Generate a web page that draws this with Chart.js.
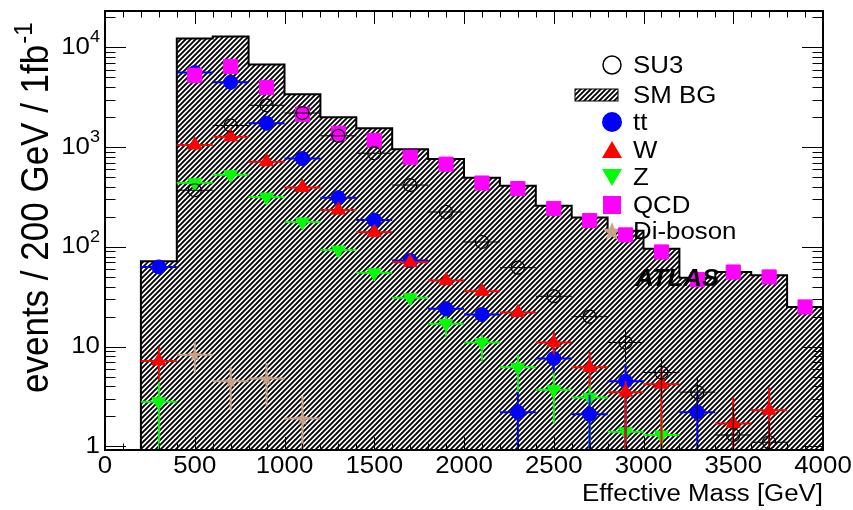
<!DOCTYPE html>
<html>
<head>
<meta charset="utf-8">
<script src="https://cdn.jsdelivr.net/npm/chart.js@4.4.0/dist/chart.umd.min.js"></script>
<style>
  html, body { margin: 0; padding: 0; background: #fff; }
</style>
</head>
<body>
<canvas id="grafico" width="853" height="510"></canvas>
<script>
// effective mass bins (centres, GeV) and events / 200 GeV / 1fb-1
var binCenters = [300, 500, 700, 900, 1100, 1300, 1500, 1700, 1900, 2100, 2300, 2500, 2700, 2900, 3100, 3300, 3500, 3700, 3900];
var binWidth = 200;

var smBg    = [72, 12300, 12900, 6760, 3390, 2000, 1550, 955, 760, 495, 410, 258, 197, 145, 96, 49, 56, 52, 25];
var su3     = [null, 370, 1650, 2630, 2200, 1300, 870, 417, 224, 112, 62, 32, 20, 11, 5.5, 3.5, 1.3, 1.1, null];
var ttbar   = [63, 5600, 4470, 1740, 770, 312, 186, 73, 24, 21, 2.2, 7.6, 2.1, 4.5, null, 2.2, null, null, null];
var wJets   = [7.2, 1050, 1270, 715, 395, 234, 140, 70, 46, 36, 22, 11, 6.2, 3.5, 4.2, null, 1.7, 2.3, null];
var zJets   = [2.8, 440, 530, 316, 178, 93, 55, 31, 17, 11, 6.2, 3.7, 3.1, 1.4, 1.3, null, null, null, null];
var qcd     = [null, 5250, 6460, 3980, 2140, 1380, 1170, 794, 676, 437, 385, 243, 184, 132, 89, 47, 56, 50, 25];
var diboson = [null, 8.3, 4.5, 4.8, 1.9, null, null, null, null, null, null, null, null, null, null, null, null, null, null];

// vertical error bars [low, high], only where they stick out of the marker
var su3Err     = [null, null, null, null, null, null, null, null, null, null, null, null, null, [7, 15], [3, 7.8], [1.8, 5], [0.5, 2.6], [0.5, 1.8], null];
var ttbarErr   = [null, null, null, null, null, null, null, null, null, null, [0.5, 3.5], [5.5, 9.7], [0.5, 3.3], [0.5, 6.6], null, [0.5, 3.5], null, null, null];
var wJetsErr   = [[4.6, 10], null, null, null, null, null, null, null, null, null, null, [8.3, 14], [4, 8.9], [0.5, 4.5], [0.5, 6.2], null, [0.5, 3.1], [0.5, 3.9], null];
var zJetsErr   = [[0.5, 4.4], null, null, null, null, null, null, null, [12.6, 21], [7.1, 13.2], [3.5, 8.3], [1.7, 5.5], [0.5, 4.7], [0.5, 3.0], [0.5, 2.1], null, null, null, null];
var dibosonErr = [null, [5.5, 11.2], [2.3, 6.3], [2.5, 6.8], [0.5, 3.2], null, null, null, null, null, null, null, null, null, null, null, null, null, null];

// axes
var xMin = 0, xMax = 4000;
var yMin = 0.92, yMax = 23200;
var xTickLabels = [0, 500, 1000, 1500, 2000, 2500, 3000, 3500, 4000];
var yTickValues = [1, 10, 100, 1000, 10000];
var yTickBase   = ['1', '10', '10', '10', '10'];
var yTickExp    = ['', '', '2', '3', '4'];

var legendNames = ['SU3', 'SM BG', 'tt', 'W', 'Z', 'QCD', 'Di-boson'];

var FONT = '"Liberation Sans", Arial, sans-serif';
var SX = 1.1; // text is a little wide in this style
var tan = '#c8a287';

var canvas = document.getElementById('grafico');
var ctxMain = canvas.getContext('2d');

// hatch for the SM background
var tile = document.createElement('canvas');
tile.width = 5; tile.height = 5;
var tc = tile.getContext('2d');
tc.fillStyle = '#fff';
tc.fillRect(0, 0, 5, 5);
tc.strokeStyle = '#000';
tc.lineWidth = 1.9;
tc.beginPath();
tc.moveTo(-1, 6); tc.lineTo(6, -1);
tc.moveTo(-1, 1); tc.lineTo(1, -1);
tc.moveTo(4, 6); tc.lineTo(6, 4);
tc.stroke();
var hatch = ctxMain.createPattern(tile, 'repeat');

var starPath = function(ctx, cx, cy, R) {
	var r = R * 0.42;
	ctx.beginPath();
	for (var k = 0; k < 10; k++) {
		var a = -Math.PI / 2 + k * Math.PI / 5;
		var rr = (k % 2 === 0) ? R : r;
		ctx.lineTo(cx + rr * Math.cos(a), cy + rr * Math.sin(a));
	}
	ctx.closePath();
};

var starImg = document.createElement('canvas');
starImg.width = 14; starImg.height = 14;
var sc = starImg.getContext('2d');
sc.fillStyle = tan;
starPath(sc, 7, 7.5, 7);
sc.fill();

var toPoints = function(values) {
	return values.map(function(v, i) { return { x: binCenters[i], y: v }; });
};

// step outline: left edge of each bin, closed at the last upper edge
var histPoints = [{ x: binCenters[0] - binWidth / 2, y: yMin }];
for (var i = 0; i < smBg.length; i++) {
	histPoints.push({ x: binCenters[i] - binWidth / 2, y: smBg[i] });
}
histPoints.push({ x: binCenters[binCenters.length - 1] + binWidth / 2, y: smBg[smBg.length - 1] });

var pointSet = function(label, values, errors, color, style, radius, order, extra) {
	var ds = {
		type: 'scatter',
		label: label,
		data: toPoints(values),
		errors: errors,
		errColor: color,
		order: order,
		pointStyle: style,
		pointRadius: radius,
		pointBackgroundColor: color,
		pointBorderColor: color,
		pointBorderWidth: 1
	};
	for (var k in extra) { ds[k] = extra[k]; }
	return ds;
};

var text = function(ctx, str, x, y, size, align, weight) {
	ctx.save();
	ctx.font = (weight || '') + ' ' + size + 'px ' + FONT;
	var w = ctx.measureText(str).width * SX;
	var x0 = align === 'right' ? x - w : (align === 'center' ? x - w / 2 : x);
	ctx.translate(x0, y);
	ctx.scale(SX, 1);
	ctx.textAlign = 'left';
	ctx.textBaseline = 'middle';
	ctx.fillStyle = '#000';
	ctx.fillText(str, 0, 0);
	ctx.restore();
};

var supLabel = function(ctx, base, sup, xRight, y, size) {
	var supSize = size * 0.7;
	ctx.save();
	ctx.font = size + 'px ' + FONT;
	var wb = ctx.measureText(base).width;
	ctx.font = supSize + 'px ' + FONT;
	var ws = sup ? ctx.measureText(sup).width : 0;
	ctx.translate(xRight - (wb + ws) * SX, y);
	ctx.scale(SX, 1);
	ctx.textAlign = 'left';
	ctx.textBaseline = 'middle';
	ctx.fillStyle = '#000';
	ctx.font = size + 'px ' + FONT;
	ctx.fillText(base, 0, 0);
	if (sup) {
		ctx.font = supSize + 'px ' + FONT;
		ctx.fillText(sup, wb, -size * 0.42);
	}
	ctx.restore();
};

var legendMarker = function(ctx, n, x, y) {
	ctx.save();
	if (n === 0) {
		ctx.strokeStyle = '#000'; ctx.lineWidth = 1.5;
		ctx.beginPath(); ctx.arc(x, y, 9, 0, 2 * Math.PI); ctx.stroke();
	} else if (n === 1) {
		ctx.fillStyle = hatch; ctx.fillRect(x - 37, y - 6, 43, 12);
		ctx.strokeStyle = '#000'; ctx.lineWidth = 1;
		ctx.strokeRect(x - 37, y - 6, 43, 12);
	} else if (n === 2) {
		ctx.fillStyle = '#0000ff';
		ctx.beginPath(); ctx.arc(x, y, 10, 0, 2 * Math.PI); ctx.fill();
	} else if (n === 3) {
		ctx.fillStyle = '#ff0000';
		ctx.beginPath(); ctx.moveTo(x, y - 9); ctx.lineTo(x + 10, y + 8); ctx.lineTo(x - 10, y + 8); ctx.closePath(); ctx.fill();
	} else if (n === 4) {
		ctx.fillStyle = '#00ff00';
		ctx.beginPath(); ctx.moveTo(x, y + 9); ctx.lineTo(x + 10, y - 8); ctx.lineTo(x - 10, y - 8); ctx.closePath(); ctx.fill();
	} else if (n === 5) {
		ctx.fillStyle = '#ff00ff'; ctx.fillRect(x - 9, y - 9, 18, 18);
	} else {
		ctx.fillStyle = tan; starPath(ctx, x, y + 1, 10); ctx.fill();
	}
	ctx.restore();
};

var decorations = {
	id: 'decorations',
	beforeDatasetDraw: function(chart, args) {
		var ds = chart.data.datasets[args.index];
		if (!ds.errors) return;
		var xs = chart.scales.x, ys = chart.scales.y, area = chart.chartArea;
		var ctx = chart.ctx;
		ctx.save();
		ctx.beginPath();
		ctx.rect(area.left, area.top, area.right - area.left, area.bottom - area.top);
		ctx.clip();
		ctx.strokeStyle = ds.errColor;
		ctx.lineWidth = ds.errWidth || 2;
		ds.data.forEach(function(p, i) {
			if (p.y === null) return;
			var px = xs.getPixelForValue(p.x), py = ys.getPixelForValue(p.y);
			ctx.beginPath();
			ctx.moveTo(xs.getPixelForValue(p.x - binWidth / 2), py);
			ctx.lineTo(xs.getPixelForValue(p.x + binWidth / 2), py);
			var e = ds.errors[i];
			if (e) {
				ctx.moveTo(px, ys.getPixelForValue(e[0]));
				ctx.lineTo(px, ys.getPixelForValue(e[1]));
			}
			ctx.stroke();
		});
		ctx.restore();
	},
	afterDatasetDraw: function(chart, args) {
		if (args.index !== 0) return;
		// legend sits over the histogram but under the points
		var ctx = chart.ctx;
		var rows = [65, 95, 122, 150, 177, 205, 231];
		for (var n = 0; n < legendNames.length; n++) {
			legendMarker(ctx, n, 612, rows[n]);
			text(ctx, legendNames[n], 633, rows[n] + 2, 23.5, 'left');
		}
	},
	afterDraw: function(chart) {
		var ctx = chart.ctx;
		var xs = chart.scales.x, ys = chart.scales.y, a = chart.chartArea;
		ctx.save();
		ctx.strokeStyle = '#000';
		ctx.lineWidth = 1;
		ctx.beginPath();
		for (var v = xMin; v <= xMax; v += 100) {
			var px = Math.round(xs.getPixelForValue(v)) + 0.5;
			var len = (v % 500 === 0) ? 13 : 6.5;
			ctx.moveTo(px, a.bottom); ctx.lineTo(px, a.bottom - len);
			ctx.moveTo(px, a.top); ctx.lineTo(px, a.top + len);
		}
		for (var d = 1; d <= 10000; d *= 10) {
			for (var m = 1; m <= 9; m++) {
				var val = d * m;
				if (val < yMin || val > yMax) continue;
				var py = Math.round(ys.getPixelForValue(val)) + 0.5;
				var l = (m === 1) ? 21 : 10.5;
				ctx.moveTo(a.left, py); ctx.lineTo(a.left + l, py);
				ctx.moveTo(a.right, py); ctx.lineTo(a.right - l, py);
			}
		}
		ctx.stroke();
		ctx.lineWidth = 2;
		ctx.strokeRect(a.left, a.top, a.right - a.left, a.bottom - a.top);
		ctx.restore();

		xTickLabels.forEach(function(v) {
			text(ctx, String(v), xs.getPixelForValue(v), a.bottom + 17, 23.5, 'center');
		});
		yTickValues.forEach(function(v, i) {
			supLabel(ctx, yTickBase[i], yTickExp[i], a.left - 5, ys.getPixelForValue(v), 23.5);
		});
		text(ctx, 'Effective Mass [GeV]', a.right, a.bottom + 45, 23.5, 'right');

		// rotated y title with superscript
		ctx.save();
		ctx.translate(48, 393);
		ctx.scale(SX, 1);
		ctx.rotate(-Math.PI / 2);
		ctx.fillStyle = '#000';
		ctx.textBaseline = 'alphabetic';
		ctx.font = '35px ' + FONT;
		var t = 'events / 200 GeV / 1fb';
		var wt = ctx.measureText(t).width;
		ctx.fillText(t, 0, 0);
		ctx.font = '24px ' + FONT;
		ctx.fillText('-1', wt + 1, -15);
		ctx.restore();

		text(ctx, 'ATLAS', 635, 280, 23.5, 'left', 'italic bold');
	}
};

var chart = new Chart(canvas, {
	type: 'scatter',
	data: {
		datasets: [
			{
				type: 'line',
				label: 'SM BG',
				data: histPoints,
				order: 10,
				stepped: true,
				fill: 'start',
				backgroundColor: hatch,
				borderColor: '#000',
				borderWidth: 2,
				pointRadius: 0
			},
			pointSet('Di-boson', diboson, dibosonErr, tan, starImg, 7, 6),
			pointSet('Z', zJets, zJetsErr, '#00ff00', 'triangle', 8, 5, { pointRotation: 180 }),
			pointSet('tt', ttbar, ttbarErr, '#0000ff', 'circle', 7, 4),
			pointSet('W', wJets, wJetsErr, '#ff0000', 'triangle', 8, 3),
			pointSet('QCD', qcd, null, '#ff00ff', 'rect', 10, 2),
			pointSet('SU3', su3, su3Err, '#000000', 'circle', 6.5, 1, {
				pointBackgroundColor: 'rgba(0,0,0,0)', pointBorderWidth: 1.2, errWidth: 1
			})
		]
	},
	options: {
		responsive: false,
		animation: false,
		layout: { padding: { left: 105, right: 30, top: 10, bottom: 60 } },
		plugins: { legend: { display: false }, tooltip: { enabled: false } },
		scales: {
			x: { type: 'linear', min: xMin, max: xMax, display: false },
			y: { type: 'logarithmic', min: yMin, max: yMax, display: false }
		}
	},
	plugins: [decorations]
});
</script>
</body>
</html>
